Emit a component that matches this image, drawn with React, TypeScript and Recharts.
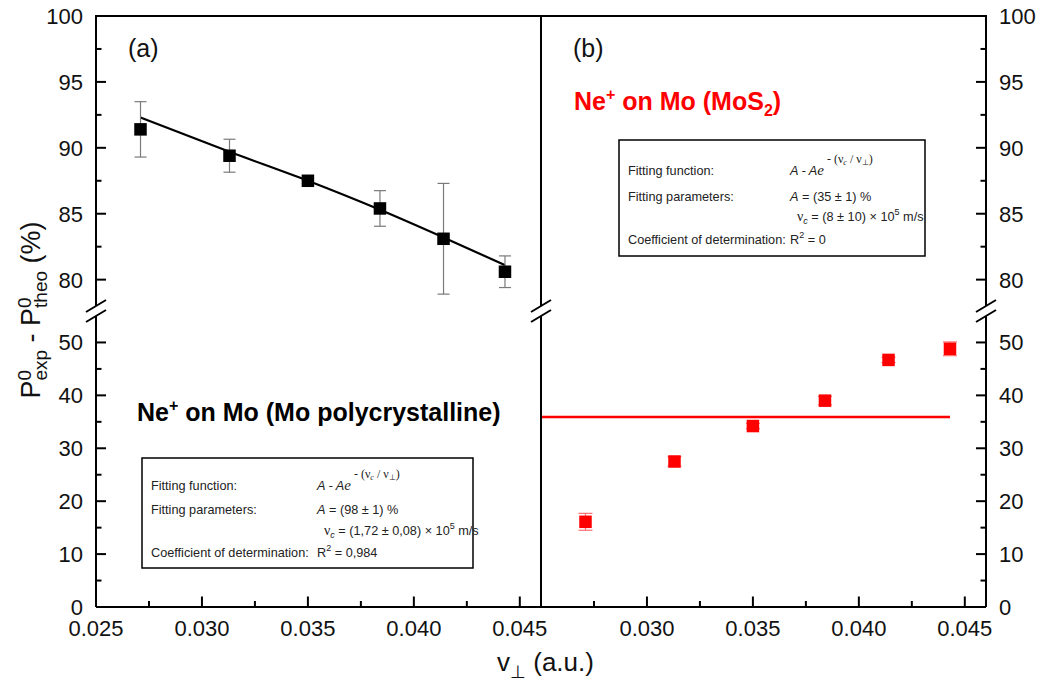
import React from 'react';
import { ComposedChart, Scatter, Line, XAxis, YAxis, ErrorBar } from 'recharts';

// perpendicular velocity (a.u.), shared by both panels
const velocities = [0.0271, 0.0313, 0.035, 0.0384, 0.0414, 0.0443];

// (a) Mo polycrystalline
const polyValues = [91.4, 89.4, 87.5, 85.4, 83.1, 80.6];
const polyErrors = [2.1, 1.25, 0.2, 1.35, 4.2, 1.2];
const polyFitValues = [92.3, 89.7, 87.5, 85.3, 83.2, 81.1];

// (b) MoS2
const mos2Values = [16.1, 27.5, 34.2, 39.0, 46.7, 48.8];
const mos2Errors = [1.6, 0.9, 0.5, 0.8, 0.5, 1.3];
const mos2FitX = [0.025, 0.0443];
const mos2FitValues = [35.9, 35.9];

const xDomain = [0.025, 0.046];
const xTicksLeft = [0.025, 0.0275, 0.03, 0.0325, 0.035, 0.0375, 0.04, 0.0425, 0.045];
const xTicksRight = [0.0275, 0.03, 0.0325, 0.035, 0.0375, 0.04, 0.0425, 0.045];
const upperDomain = [78, 100];
const upperTicks = [80, 82.5, 85, 87.5, 90, 92.5, 95, 97.5, 100];
const lowerDomain = [0, 55];
const lowerTicks = [0, 5, 10, 15, 20, 25, 30, 35, 40, 45, 50];

const polyPoints = velocities.map((x, i) => ({ x, y: polyValues[i], err: polyErrors[i] }));
const polyFit = velocities.map((x, i) => ({ x, y: polyFitValues[i] }));
const mos2Points = velocities.map((x, i) => ({ x, y: mos2Values[i], err: mos2Errors[i] }));
const mos2Fit = mos2FitX.map((x, i) => ({ x, y: mos2FitValues[i] }));

const W = 1040;
const H = 683;
const LEFT = 96;
const MID = 541;
const RIGHT = 986;
const TOP = 16;
const BREAK_HI = 306;
const BREAK_LO = 316;
const BOTTOM = 607;
const GAP = 13;
const FONT = '"Liberation Sans", Arial, Helvetica, sans-serif';
const SERIF = '"Liberation Serif", "Times New Roman", serif';

const isMult = (v: number, step: number) => Math.abs(v / step - Math.round(v / step)) < 1e-6;

const YTick = (props: any) => {
  const { x, y, payload, side, step } = props;
  const major = isMult(payload.value, step);
  const dir = side === 'left' ? 1 : -1;
  const axisX = side === 'left' ? x + GAP : x - GAP;
  return (
    <g>
      <line x1={axisX} x2={axisX + dir * (major ? 10 : 5.5)} y1={y} y2={y} stroke="#000" strokeWidth={2} />
      {major && (
        <text x={x} y={y} dy="0.36em" textAnchor={side === 'left' ? 'end' : 'start'} fontSize={22} fontFamily={FONT} fill="#111">
          {payload.value}
        </text>
      )}
    </g>
  );
};

const XTick = (props: any) => {
  const { x, y, payload } = props;
  const major = isMult(payload.value, 0.005);
  const axisY = y - GAP;
  return (
    <g>
      <line x1={x} x2={x} y1={axisY} y2={axisY - (major ? 10.5 : 6)} stroke="#000" strokeWidth={2} />
      {major && (
        <text x={x} y={y} dy="0.72em" textAnchor="middle" fontSize={22} fontFamily={FONT} fill="#111">
          {payload.value.toFixed(3)}
        </text>
      )}
    </g>
  );
};

const square = (fill: string) => (p: any) => (
  <rect x={p.cx - 6.25} y={p.cy - 6.25} width={12.5} height={12.5} fill={fill} />
);

const axisLine = { stroke: '#000', strokeWidth: 2 };

type PanelProps = {
  side: 'left' | 'right';
  part: 'upper' | 'lower';
  children?: React.ReactNode;
};

const Panel = ({ side, part, children }: PanelProps) => {
  const upper = part === 'upper';
  const margin = {
    top: upper ? TOP : BREAK_LO,
    bottom: upper ? H - BREAK_HI : 0,
    left: side === 'left' ? 0 : MID,
    right: side === 'left' ? W - MID : 0,
  };
  return (
    <div style={{ position: 'absolute', left: 0, top: 0 }}>
      <ComposedChart width={W} height={H} margin={margin}>
        <XAxis
          type="number"
          dataKey="x"
          domain={xDomain}
          ticks={side === 'left' ? xTicksLeft : xTicksRight}
          interval={0}
          allowDataOverflow
          hide={upper}
          height={H - BOTTOM}
          axisLine={axisLine}
          tickLine={false}
          tickSize={0}
          tickMargin={GAP}
          tick={(p: any) => <XTick {...p} />}
        />
        <YAxis
          type="number"
          dataKey="y"
          orientation={side}
          width={side === 'left' ? LEFT : W - RIGHT}
          domain={upper ? upperDomain : lowerDomain}
          ticks={upper ? upperTicks : lowerTicks}
          interval={0}
          allowDataOverflow
          axisLine={axisLine}
          tickLine={false}
          tickSize={0}
          tickMargin={GAP}
          tick={(p: any) => <YTick {...p} side={side} step={upper ? 5 : 10} />}
        />
        {children}
      </ComposedChart>
    </div>
  );
};

const FitBox = (props: {
  x: number; y: number; w: number; h: number; col: number; rows: number[];
  a: string; nuc: string; r2: string;
}) => {
  const { x, y, w, h, col, rows, a, nuc, r2 } = props;
  const tx = x + 9;
  const vx = x + col;
  const common = { fontSize: 12.7, fontFamily: FONT, fill: '#222' };
  return (
    <g>
      <rect x={x} y={y} width={w} height={h} fill="none" stroke="#000" strokeWidth={1.5} />
      <text x={tx} y={y + rows[0]} {...common}>Fitting function:</text>
      <text x={vx} y={y + rows[0]} {...common} style={{ whiteSpace: 'pre' }}>
        <tspan fontStyle="italic">A - A</tspan>
        <tspan fontStyle="italic" fontFamily={SERIF} fontSize={15}>e</tspan>
        <tspan fontFamily={SERIF} fontSize={12} dy={-12}> - (ν</tspan>
        <tspan fontFamily={SERIF} fontSize={8} fontStyle="italic" dy={2}>c</tspan>
        <tspan fontFamily={SERIF} fontSize={12} dy={-2}> / ν</tspan>
        <tspan fontFamily={SERIF} fontSize={8} dy={2}>⊥</tspan>
        <tspan fontFamily={SERIF} fontSize={12} dy={-2}>)</tspan>
      </text>
      <text x={tx} y={y + rows[1]} {...common}>Fitting parameters:</text>
      <text x={vx} y={y + rows[1]} {...common} style={{ whiteSpace: 'pre' }}>
        <tspan fontStyle="italic">A</tspan>
        <tspan>{` = (${a}) %`}</tspan>
      </text>
      <text x={vx + 7} y={y + rows[2]} {...common} style={{ whiteSpace: 'pre' }}>
        <tspan fontFamily={SERIF} fontSize={14}>ν</tspan>
        <tspan fontStyle="italic" fontSize={9} dy={3}>c</tspan>
        <tspan dy={-3}>{` = (${nuc}) × 10`}</tspan>
        <tspan fontSize={9} dy={-6}>5</tspan>
        <tspan dy={6}> m/s</tspan>
      </text>
      <text x={tx} y={y + rows[3]} {...common}>Coefficient of determination:</text>
      <text x={vx} y={y + rows[3]} {...common} style={{ whiteSpace: 'pre' }}>
        <tspan>R</tspan>
        <tspan fontSize={9} dy={-6}>2</tspan>
        <tspan dy={6}>{` = ${r2}`}</tspan>
      </text>
    </g>
  );
};

const BreakMarks = ({ x }: { x: number }) => (
  <g stroke="#000" strokeWidth={2}>
    <line x1={x - 10} y1={BREAK_HI + 6} x2={x + 10} y2={BREAK_HI - 6} />
    <line x1={x - 10} y1={BREAK_LO + 6} x2={x + 10} y2={BREAK_LO - 6} />
  </g>
);

export default function App() {
  return (
    <div style={{ position: 'absolute', left: 0, top: 0, width: W, height: H, background: '#fff', overflow: 'hidden' }}>
      <Panel side="left" part="upper">
        <Line data={polyFit} dataKey="y" type="monotone" stroke="#000" strokeWidth={2.2} dot={false} isAnimationActive={false} />
        <Scatter data={polyPoints} dataKey="y" shape={square('#000')} isAnimationActive={false}>
          <ErrorBar dataKey="err" direction="y" width={6} stroke="#7a7a7a" strokeWidth={1.2} isAnimationActive={false} />
        </Scatter>
      </Panel>
      <Panel side="left" part="lower">
        <Scatter data={[]} dataKey="y" isAnimationActive={false} />
      </Panel>
      <Panel side="right" part="upper">
        <Scatter data={[]} dataKey="y" isAnimationActive={false} />
      </Panel>
      <Panel side="right" part="lower">
        <Line data={mos2Fit} dataKey="y" type="linear" stroke="#ff0000" strokeWidth={2.5} dot={false} isAnimationActive={false} />
        <Scatter data={mos2Points} dataKey="y" shape={square('#ff0000')} isAnimationActive={false}>
          <ErrorBar dataKey="err" direction="y" width={7} stroke="#ff7070" strokeWidth={1.2} isAnimationActive={false} />
        </Scatter>
      </Panel>

      <svg width={W} height={H} style={{ position: 'absolute', left: 0, top: 0, pointerEvents: 'none' }}>
        <line x1={LEFT - 1} x2={RIGHT + 1} y1={TOP} y2={TOP} stroke="#000" strokeWidth={2} />
        <line x1={MID} x2={MID} y1={TOP} y2={BREAK_HI} stroke="#000" strokeWidth={2} />
        <line x1={MID} x2={MID} y1={BREAK_LO} y2={BOTTOM} stroke="#000" strokeWidth={2} />
        <BreakMarks x={LEFT} />
        <BreakMarks x={MID} />
        <BreakMarks x={RIGHT} />

        <text
          transform="translate(40, 310) rotate(-90)"
          textAnchor="middle"
          fontSize={27}
          fontFamily={FONT}
          fill="#111"
          style={{ whiteSpace: 'pre' }}
        >
          <tspan>P</tspan>
          <tspan fontSize={19} dy={-9}>0</tspan>
          <tspan fontSize={19} dx={-10.6} dy={16}>exp</tspan>
          <tspan dy={-7}> - P</tspan>
          <tspan fontSize={19} dy={-9}>0</tspan>
          <tspan fontSize={19} dx={-10.6} dy={16}>theo</tspan>
          <tspan dy={-7}> (%)</tspan>
        </text>

        <text x={497} y={671} fontSize={26} fontFamily={FONT} fill="#111" style={{ whiteSpace: 'pre' }}>
          <tspan>v</tspan>
          <tspan fontSize={18} dy={7}>⊥</tspan>
          <tspan dy={-7}> (a.u.)</tspan>
        </text>

        <text x={128} y={57} fontSize={25} fontFamily={FONT} fill="#111">(a)</text>
        <text x={573} y={57} fontSize={25} fontFamily={FONT} fill="#111">(b)</text>

        <text x={574} y={110} fontSize={25} fontWeight="bold" fontFamily={FONT} fill="#ff0000" style={{ whiteSpace: 'pre' }}>
          <tspan>Ne</tspan>
          <tspan fontSize={16} dy={-10}>+</tspan>
          <tspan dy={10}> on Mo (MoS</tspan>
          <tspan fontSize={16} dy={6}>2</tspan>
          <tspan dy={-6}>)</tspan>
        </text>
        <text x={137} y={421} fontSize={25} fontWeight="bold" fontFamily={FONT} fill="#000" style={{ whiteSpace: 'pre' }}>
          <tspan>Ne</tspan>
          <tspan fontSize={16} dy={-10}>+</tspan>
          <tspan dy={10}> on Mo (Mo polycrystalline)</tspan>
        </text>

        <FitBox x={142} y={458} w={331} h={110} col={175} rows={[32, 56, 77, 99]} a="98 ± 1" nuc="1,72 ± 0,08" r2="0,984" />
        <FitBox x={619} y={140} w={306} h={116} col={171} rows={[35, 61, 81, 104]} a="35 ± 1" nuc="8 ± 10" r2="0" />
      </svg>
    </div>
  );
}
